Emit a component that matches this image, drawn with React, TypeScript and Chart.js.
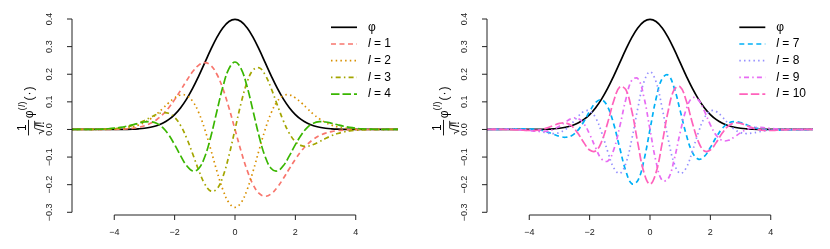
import React, { useEffect, useRef } from "react";
import { Chart, registerables } from "chart.js";
Chart.register(...registerables);

const FONT = '"Liberation Sans", Arial, Helvetica, sans-serif';

// x grid of the curves
const xGrid = [-5.4, -5.2, -5, -4.8, -4.6, -4.4, -4.2, -4, -3.8, -3.6, -3.4, -3.2, -3, -2.8, -2.6, -2.4, -2.2, -2, -1.8, -1.6, -1.4, -1.2, -1, -0.8, -0.6, -0.4, -0.2, 0, 0.2, 0.4, 0.6, 0.8, 1, 1.2, 1.4, 1.6, 1.8, 2, 2.2, 2.4, 2.6, 2.8, 3, 3.2, 3.4, 3.6, 3.8, 4, 4.2, 4.4, 4.6, 4.8, 5, 5.2, 5.4];

// φ
const phi = [0, 0, 0, 0, 0, 0, 0.0001, 0.0001, 0.0003, 0.0006, 0.0012, 0.0024, 0.0044, 0.0079, 0.0136, 0.0224, 0.0355, 0.054, 0.079, 0.1109, 0.1497, 0.1942, 0.242, 0.2897, 0.3332, 0.3683, 0.391, 0.3989, 0.391, 0.3683, 0.3332, 0.2897, 0.242, 0.1942, 0.1497, 0.1109, 0.079, 0.054, 0.0355, 0.0224, 0.0136, 0.0079, 0.0044, 0.0024, 0.0012, 0.0006, 0.0003, 0.0001, 0.0001, 0, 0, 0, 0, 0, 0];

// normalised derivatives, left panel
const d1 = [0, 0, 0, 0, 0, 0.0001, 0.0002, 0.0005, 0.0011, 0.0022, 0.0042, 0.0076, 0.0133, 0.0222, 0.0353, 0.0537, 0.078, 0.108, 0.1421, 0.1775, 0.2096, 0.233, 0.242, 0.2318, 0.1999, 0.1473, 0.0782, 0, -0.0782, -0.1473, -0.1999, -0.2318, -0.242, -0.233, -0.2096, -0.1775, -0.1421, -0.108, -0.078, -0.0537, -0.0353, -0.0222, -0.0133, -0.0076, -0.0042, -0.0022, -0.0011, -0.0005, -0.0002, -0.0001, 0, 0, 0, 0, 0];
const d2 = [0, 0, 0, 0.0001, 0.0001, 0.0003, 0.0007, 0.0014, 0.0028, 0.0052, 0.0092, 0.0156, 0.0251, 0.0383, 0.0553, 0.0754, 0.0963, 0.1145, 0.1251, 0.1224, 0.1016, 0.0604, 0, -0.0737, -0.1508, -0.2187, -0.2654, -0.2821, -0.2654, -0.2187, -0.1508, -0.0737, 0, 0.0604, 0.1016, 0.1224, 0.1251, 0.1145, 0.0963, 0.0754, 0.0553, 0.0383, 0.0251, 0.0156, 0.0092, 0.0052, 0.0028, 0.0014, 0.0007, 0.0003, 0.0001, 0.0001, 0, 0, 0];
const d3 = [0, 0, 0.0001, 0.0002, 0.0003, 0.0007, 0.0015, 0.0028, 0.0052, 0.009, 0.0146, 0.0225, 0.0326, 0.0438, 0.0542, 0.0606, 0.0586, 0.0441, 0.0139, -0.0319, -0.089, -0.1484, -0.1976, -0.2233, -0.2155, -0.1708, -0.0945, 0, 0.0945, 0.1708, 0.2155, 0.2233, 0.1976, 0.1484, 0.089, 0.0319, -0.0139, -0.0441, -0.0586, -0.0606, -0.0542, -0.0438, -0.0326, -0.0225, -0.0146, -0.009, -0.0052, -0.0028, -0.0015, -0.0007, -0.0003, -0.0002, -0.0001, 0, 0];
const d4 = [0, 0.0001, 0.0001, 0.0003, 0.0007, 0.0013, 0.0025, 0.0045, 0.0074, 0.0116, 0.0169, 0.0226, 0.0271, 0.0282, 0.0226, 0.0074, -0.0189, -0.0551, -0.0958, -0.1315, -0.1503, -0.1414, -0.0988, -0.0255, 0.066, 0.1553, 0.2204, 0.2443, 0.2204, 0.1553, 0.066, -0.0255, -0.0988, -0.1414, -0.1503, -0.1315, -0.0958, -0.0551, -0.0189, 0.0074, 0.0226, 0.0282, 0.0271, 0.0226, 0.0169, 0.0116, 0.0074, 0.0045, 0.0025, 0.0013, 0.0007, 0.0003, 0.0001, 0.0001, 0];

// normalised derivatives, right panel
const d7 = [0.0001, 0.0003, 0.0005, 0.0009, 0.0014, 0.002, 0.0024, 0.0022, 0.0007, -0.0029, -0.009, -0.017, -0.0247, -0.0283, -0.0229, -0.0044, 0.0271, 0.0654, 0.0976, 0.1074, 0.0817, 0.0185, -0.0682, -0.1506, -0.1968, -0.1841, -0.1111, 0, 0.1111, 0.1841, 0.1968, 0.1506, 0.0682, -0.0185, -0.0817, -0.1074, -0.0976, -0.0654, -0.0271, 0.0044, 0.0229, 0.0283, 0.0247, 0.017, 0.009, 0.0029, -0.0007, -0.0022, -0.0024, -0.002, -0.0014, -0.0009, -0.0005, -0.0003, -0.0001];
const d8 = [0.0002, 0.0003, 0.0005, 0.0008, 0.001, 0.001, 0.0003, -0.0013, -0.0044, -0.0085, -0.0128, -0.0148, -0.0114, 0.0002, 0.0204, 0.0449, 0.0646, 0.067, 0.0419, -0.0115, -0.0802, -0.1389, -0.1591, -0.1226, -0.0336, 0.079, 0.1724, 0.2086, 0.1724, 0.079, -0.0336, -0.1226, -0.1591, -0.1389, -0.0802, -0.0115, 0.0419, 0.067, 0.0646, 0.0449, 0.0204, 0.0002, -0.0114, -0.0148, -0.0128, -0.0085, -0.0044, -0.0013, 0.0003, 0.001, 0.001, 0.0008, 0.0005, 0.0003, 0.0002];
const d9 = [0.0002, 0.0003, 0.0004, 0.0004, 0.0002, -0.0005, -0.0018, -0.0039, -0.0062, -0.0075, -0.006, 0.0002, 0.0119, 0.0269, 0.0392, 0.0401, 0.0218, -0.017, -0.0669, -0.1073, -0.1144, -0.073, 0.0112, 0.1093, 0.1788, 0.1841, 0.1162, 0, -0.1162, -0.1841, -0.1788, -0.1093, -0.0112, 0.073, 0.1144, 0.1073, 0.0669, 0.017, -0.0218, -0.0401, -0.0392, -0.0269, -0.0119, -0.0002, 0.006, 0.0075, 0.0062, 0.0039, 0.0018, 0.0005, -0.0002, -0.0004, -0.0004, -0.0003, -0.0002];
const d10 = [0.0002, 0.0002, 0.0001, -0.0001, -0.0006, -0.0016, -0.0027, -0.0036, -0.0033, -0.0004, 0.0057, 0.0143, 0.0221, 0.0236, 0.0129, -0.0122, -0.0461, -0.0743, -0.0778, -0.0434, 0.0254, 0.1041, 0.1545, 0.1439, 0.0658, -0.0516, -0.1562, -0.1979, -0.1562, -0.0516, 0.0658, 0.1439, 0.1545, 0.1041, 0.0254, -0.0434, -0.0778, -0.0743, -0.0461, -0.0122, 0.0129, 0.0236, 0.0221, 0.0143, 0.0057, -0.0004, -0.0033, -0.0036, -0.0027, -0.0016, -0.0006, -0.0001, 0.0001, 0.0002, 0.0002];

const xTickValues = [-4, -2, 0, 2, 4];
const xTickLabels = ["\u22124", "\u22122", "0", "2", "4"];
const yTickValues = [-0.3, -0.2, -0.1, 0, 0.1, 0.2, 0.3, 0.4];
const yTickLabels = ["\u22120.3", "\u22120.2", "\u22120.1", "0.0", "0.1", "0.2", "0.3", "0.4"];

const leftLabels = ["\u03c6", "l = 1", "l = 2", "l = 3", "l = 4"];
const rightLabels = ["\u03c6", "l = 7", "l = 8", "l = 9", "l = 10"];

const DASHES = [[], [5, 3.5], [1.5, 3.2], [1.5, 3.2, 5, 3.2], [8.5, 3]];
const leftColors = ["#000000", "#F8766D", "#D89000", "#A3A500", "#39B600"];
const rightColors = ["#000000", "#00B0F6", "#9590FF", "#E76BF3", "#FF62BC"];

const leftValues = [phi, d1, d2, d3, d4];
const rightValues = [phi, d7, d8, d9, d10];

const axesPlugin = {
  id: "rAxes",
  afterDraw(chart: any) {
    const ctx = chart.ctx;
    const xs = chart.scales.x;
    const ys = chart.scales.y;
    const ca = chart.chartArea;
    ctx.save();
    ctx.strokeStyle = "#222";
    ctx.fillStyle = "#222";
    ctx.lineWidth = 1;
    ctx.setLineDash([]);
    const by = ca.bottom;
    ctx.beginPath();
    ctx.moveTo(xs.getPixelForValue(xTickValues[0]), by);
    ctx.lineTo(xs.getPixelForValue(xTickValues[xTickValues.length - 1]), by);
    xTickValues.forEach((v) => {
      const px = xs.getPixelForValue(v);
      ctx.moveTo(px, by);
      ctx.lineTo(px, by + 5);
    });
    ctx.stroke();
    ctx.font = `9px ${FONT}`;
    ctx.textAlign = "center";
    ctx.textBaseline = "middle";
    xTickValues.forEach((v, i) => {
      ctx.fillText(xTickLabels[i], xs.getPixelForValue(v), by + 17.5);
    });
    const lx = ca.left;
    ctx.beginPath();
    ctx.moveTo(lx, ys.getPixelForValue(yTickValues[0]));
    ctx.lineTo(lx, ys.getPixelForValue(yTickValues[yTickValues.length - 1]));
    yTickValues.forEach((v) => {
      const py = ys.getPixelForValue(v);
      ctx.moveTo(lx, py);
      ctx.lineTo(lx - 5, py);
    });
    ctx.stroke();
    yTickValues.forEach((v, i) => {
      const py = ys.getPixelForValue(v);
      ctx.save();
      ctx.translate(lx - 22.5, py);
      ctx.rotate(-Math.PI / 2);
      ctx.fillText(yTickLabels[i], 0, 0);
      ctx.restore();
    });
    ctx.restore();
  },
};

function labelWidth(ctx: CanvasRenderingContext2D, label: string) {
  if (label.startsWith("l ")) {
    ctx.font = `italic 12px ${FONT}`;
    const w1 = ctx.measureText("l").width;
    ctx.font = `12px ${FONT}`;
    return w1 + ctx.measureText(label.slice(1)).width;
  }
  ctx.font = `12px ${FONT}`;
  return ctx.measureText(label).width;
}

function drawLabel(ctx: CanvasRenderingContext2D, label: string, x: number, y: number) {
  ctx.textAlign = "left";
  ctx.textBaseline = "middle";
  ctx.fillStyle = "#000";
  if (label.startsWith("l ")) {
    ctx.font = `italic 12px ${FONT}`;
    ctx.fillText("l", x, y);
    const w1 = ctx.measureText("l").width;
    ctx.font = `12px ${FONT}`;
    ctx.fillText(label.slice(1), x + w1, y);
  } else {
    ctx.font = `12px ${FONT}`;
    ctx.fillText(label, x, y);
  }
}

const legendPlugin = {
  id: "rLegend",
  afterDraw(chart: any) {
    const ctx = chart.ctx;
    const ca = chart.chartArea;
    const ds = chart.data.datasets;
    ctx.save();
    const widths = ds.map((d: any) => labelWidth(ctx, d.label));
    const maxW = Math.max(...widths);
    const textLeft = ca.right - 7 - maxW;
    const lx2 = textLeft - 11;
    const lx1 = lx2 - 26;
    ds.forEach((d: any, i: number) => {
      const y = ca.top + 15.3 + i * 16.7;
      ctx.strokeStyle = d.borderColor;
      ctx.lineWidth = d.borderWidth;
      ctx.lineCap = "butt";
      ctx.setLineDash(d.borderDash || []);
      ctx.beginPath();
      ctx.moveTo(lx1, y);
      ctx.lineTo(lx2, y);
      ctx.stroke();
      ctx.setLineDash([]);
      drawLabel(ctx, d.label, textLeft, y);
    });
    ctx.restore();
  },
};

const yTitlePlugin = {
  id: "rYTitle",
  afterDraw(chart: any) {
    const ctx = chart.ctx;
    const ca = chart.chartArea;
    const cx = ca.left - 39;
    const cy = (ca.top + ca.bottom) / 2 - 3;
    const f = `12px ${FONT}`;
    const fi = `italic 12px ${FONT}`;
    const fs = `9px ${FONT}`;
    const fsi = `italic 9px ${FONT}`;
    ctx.save();
    ctx.fillStyle = "#000";
    ctx.textBaseline = "alphabetic";
    ctx.textAlign = "left";
    ctx.translate(cx, cy);
    ctx.rotate(-Math.PI / 2);
    const m = (font: string, t: string) => {
      ctx.font = font;
      return ctx.measureText(t).width;
    };
    const wRad = m(f, "\u221a");
    const wL = m(fi, "l");
    const wEx = m(f, "!");
    const denW = wRad + wL + wEx + 1;
    const fracW = denW + 2;
    const wPhi = m(f, "\u03c6");
    const wSo = m(fs, "(");
    const wSl = m(fsi, "l");
    const wSc = m(fs, ")");
    const wSup = wSo + wSl + wSc + 2;
    const wArg = m(f, "(") + m(f, "\u00b7") + m(f, ")") + 3;
    const total = fracW + 1.5 + wPhi + wSup + wArg;
    let u = -total / 2;
    // fraction
    ctx.fillRect(u, -5, fracW, 0.9);
    ctx.font = f;
    const w1 = ctx.measureText("1").width;
    ctx.fillText("1", u + (fracW - w1) / 2, -7);
    let du = u + 1;
    ctx.font = f;
    ctx.fillText("\u221a", du, 10.5);
    du += wRad;
    ctx.fillRect(du - 0.3, 1.3, wL + wEx + 1.3, 0.8);
    ctx.font = fi;
    ctx.fillText("l", du + 0.5, 10.5);
    du += wL + 0.5;
    ctx.font = f;
    ctx.fillText("!", du, 10.5);
    u += fracW + 1.5;
    // phi
    ctx.font = f;
    ctx.fillText("\u03c6", u, 0);
    u += wPhi;
    // superscript (l)
    ctx.font = fs;
    ctx.fillText("(", u, -8);
    u += wSo;
    ctx.font = fsi;
    ctx.fillText("l", u + 0.5, -8);
    u += wSl + 1;
    ctx.font = fs;
    ctx.fillText(")", u, -8);
    u += wSc + 1;
    // argument
    ctx.font = f;
    ctx.fillText("(", u, 0);
    u += m(f, "(") + 1;
    ctx.fillText("\u00b7", u, 0);
    u += m(f, "\u00b7") + 1;
    ctx.fillText(")", u, 0);
    ctx.restore();
  },
};

function Panel({ labels, colors, values }: { labels: string[]; colors: string[]; values: number[][] }) {
  const ref = useRef<HTMLCanvasElement | null>(null);
  useEffect(() => {
    if (!ref.current) return;
    const n = labels.length;
    const chart = new Chart(ref.current, {
      type: "line",
      data: {
        datasets: labels.map((lab, i) => ({
          label: lab,
          data: xGrid.map((x, k) => ({ x, y: values[i][k] })),
          borderColor: colors[i],
          backgroundColor: colors[i],
          borderWidth: 1.7,
          borderDash: DASHES[i],
          borderCapStyle: "butt",
          pointRadius: 0,
          tension: 0.4,
          fill: false,
          order: n - i,
        })),
      },
      options: {
        responsive: false,
        animation: false,
        devicePixelRatio: 1,
        events: [],
        layout: { padding: { left: 72, right: 17, top: 12, bottom: 34 } },
        scales: {
          x: { type: "linear", min: -5.4, max: 5.4, display: false },
          y: { type: "linear", min: -0.3098, max: 0.4254, display: false },
        },
        plugins: { legend: { display: false }, tooltip: { enabled: false } },
      },
      plugins: [axesPlugin, legendPlugin, yTitlePlugin],
    } as any);
    return () => chart.destroy();
  }, []);
  return <canvas ref={ref} width={415} height={249} style={{ display: "block", width: 415, height: 249 }} />;
}

export default function App() {
  return (
    <div style={{ position: "absolute", left: 0, top: 0, width: 830, height: 249, display: "flex", background: "#fff" }}>
      <Panel labels={leftLabels} colors={leftColors} values={leftValues} />
      <Panel labels={rightLabels} colors={rightColors} values={rightValues} />
    </div>
  );
}
